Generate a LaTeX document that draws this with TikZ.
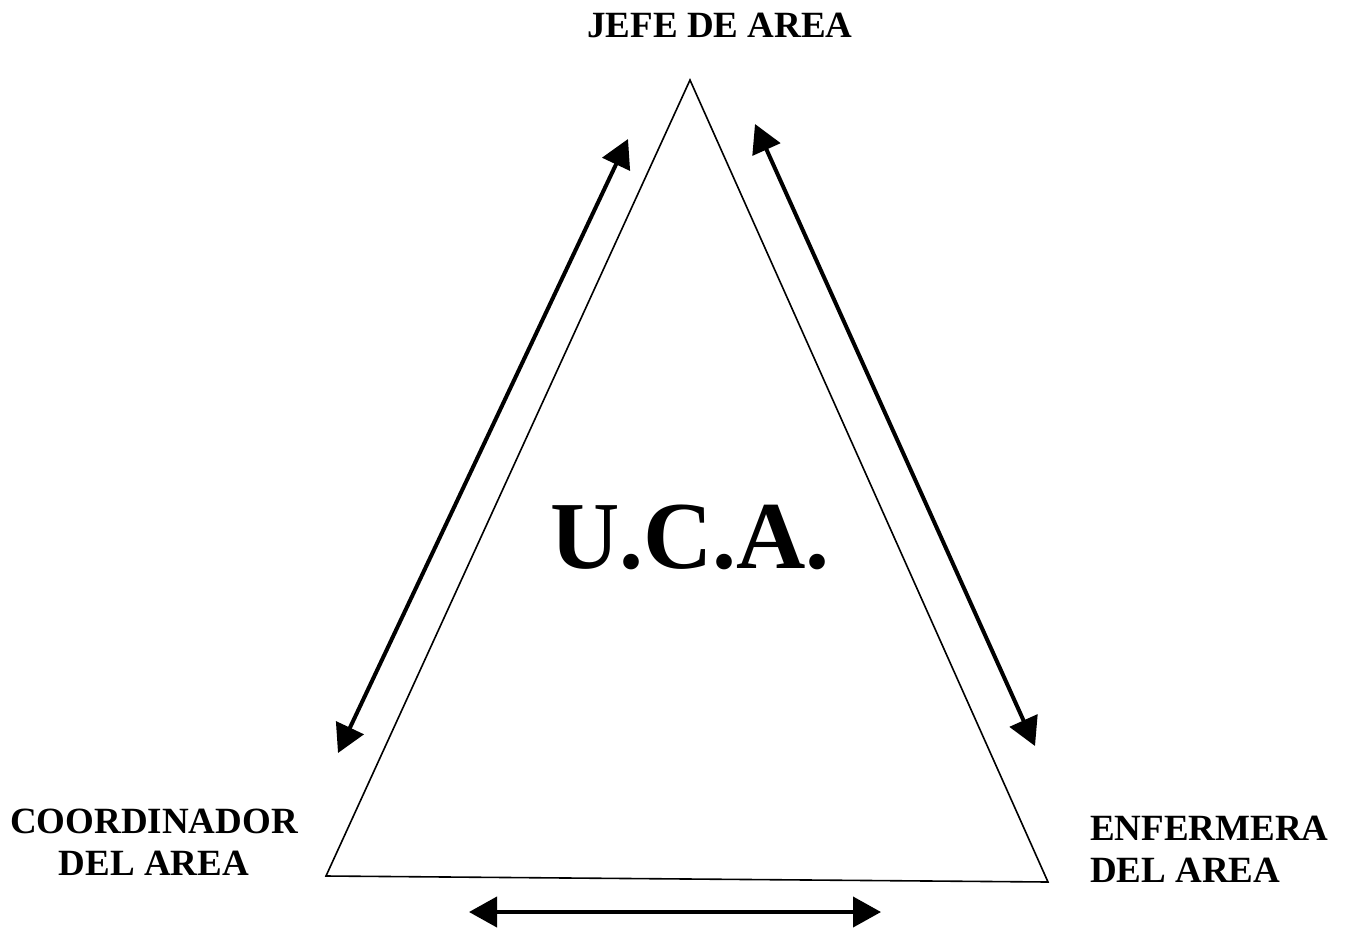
\documentclass[tikz,border=0pt]{standalone}
\usepackage{fontspec}
\setmainfont{Liberation Serif}
\usetikzlibrary{arrows.meta,positioning}
\tikzset{
  rolelabel/.style={font=\bfseries\fontsize{37}{42}\selectfont,inner sep=0pt},
  linkarrow/.style={line width=4pt,{Triangle[length=28pt,width=30pt]}-{Triangle[length=28pt,width=30pt]}}
}

\begin{document}
\begin{tikzpicture}[x=1pt,y=-1pt]
  \useasboundingbox (0,0) rectangle (1347,932);
  \coordinate (top) at (690,80);
  \coordinate (bl) at (326,876);
  \coordinate (br) at (1048,882);
  \draw[line width=1.6pt,line join=miter] (top)--(bl)--(br)--cycle;
  \node[rolelabel,anchor=base] (jefe) at (720,37) {JEFE DE AREA};
  \node[rolelabel,align=center,anchor=north] (coord) at (154,809) {COORDINADOR\\DEL AREA};
  \node[rolelabel,align=left,anchor=north west] (enf) at (1090,816) {ENFERMERA\\DEL AREA};
  \node[font=\bfseries\fontsize{96}{106}\selectfont,inner sep=0pt,anchor=base] (uca) at (690,568) {U.C.A.};
  \coordinate (a1) at (338,753); \coordinate (a2) at (628,139);
  \coordinate (b1) at (755,124); \coordinate (b2) at (1035,746);
  \coordinate (c1) at (469,912); \coordinate (c2) at (881,912);
  \draw[linkarrow] (a1)--(a2);
  \draw[linkarrow] (b1)--(b2);
  \draw[linkarrow] (c1)--(c2);
\end{tikzpicture}
\end{document}
